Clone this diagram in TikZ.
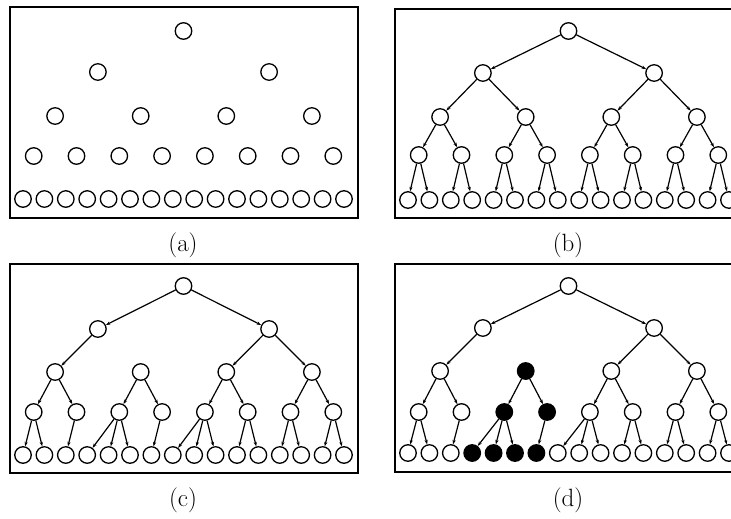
\documentclass[tikz,border=0pt]{standalone}
\usetikzlibrary{arrows.meta}
\tikzset{
  nd/.style={circle,draw=black,line width=1.3pt,minimum size=16.5pt,inner sep=0pt,fill=white},
  ed/.style={line width=1.2pt,-{Stealth[length=4.5pt,width=3.2pt]},shorten >=0pt},
  frame/.style={line width=1.5pt},
  lbl/.style={font=\fontsize{25}{30}\selectfont,inner sep=0pt},
  d-2-1/.style={fill=black},
  d-3-2/.style={fill=black},
  d-3-3/.style={fill=black},
  d-4-3/.style={fill=black},
  d-4-4/.style={fill=black},
  d-4-5/.style={fill=black},
  d-4-6/.style={fill=black}
}
\newcommand{\treelevels}[7]{%
  \foreach \i in {0,...,15} \node[nd,#1-4-\i/.try] (#1-4-\i) at ({#2+23+21.4*\i},#7) {};
  \foreach \i in {0,...,7} \node[nd,#1-3-\i/.try] (#1-3-\i) at ({#2+23+21.4*(2*\i+0.5)},#6) {};
  \foreach \i in {0,...,3} \node[nd,#1-2-\i/.try] (#1-2-\i) at ({#2+23+21.4*(4*\i+1.5)},#5) {};
  \foreach \i in {0,1} \node[nd,#1-1-\i/.try] (#1-1-\i) at ({#2+23+21.4*(8*\i+3.5)},#4) {};
  \node[nd,#1-0-0/.try] (#1-0-0) at ({#2+23+21.4*7.5},#3) {};
}
\newcommand{\partialedges}[1]{%
  \foreach \p/\c in {0-0/1-0,0-0/1-1,1-0/2-0,1-1/2-2,1-1/2-3,
    2-0/3-0,2-0/3-1,2-1/3-2,2-1/3-3,2-2/3-4,2-2/3-5,2-3/3-6,2-3/3-7,
    3-0/4-0,3-0/4-1,3-1/4-2,3-2/4-3,3-2/4-4,3-2/4-5,3-3/4-6,
    3-4/4-7,3-4/4-8,3-4/4-9,3-5/4-10,3-5/4-11,3-6/4-12,3-6/4-13,
    3-7/4-14,3-7/4-15}
    \draw[ed] (#1-\p) -- (#1-\c);
}
\begin{document}
\begin{tikzpicture}[x=1pt,y=-1pt]
\useasboundingbox (0,0) rectangle (731,519);
\clip (0,0) rectangle (731,519);
% frames
\draw[frame] (10,7) rectangle (358,218);
\draw[frame] (395,9) rectangle (743,218);
\draw[frame] (10,264) rectangle (358,473);
\draw[frame] (395,264) rectangle (743,472);
% (a)
\treelevels{a}{0}{31}{72}{116}{156}{199}
% (b)
\treelevels{b}{385}{31}{73}{117}{155}{200}
\foreach \lvl/\cnt in {0/0,1/1,2/3,3/7}
  \foreach \i in {0,...,\cnt} {
    \pgfmathtruncatemacro\nl{\lvl+1}
    \pgfmathtruncatemacro\ca{2*\i}
    \pgfmathtruncatemacro\cb{2*\i+1}
    \draw[ed] (b-\lvl-\i) -- (b-\nl-\ca);
    \draw[ed] (b-\lvl-\i) -- (b-\nl-\cb);
  }
% (c)
\treelevels{c}{0}{286}{329}{372}{412}{455}
\partialedges{c}
% (d)
\treelevels{d}{385}{286}{328}{371}{412}{453}
\partialedges{d}
% labels
\node[lbl] (la) at (183,245) {(a)};
\node[lbl] (lb) at (568,245) {(b)};
\node[lbl] (lc) at (183,500) {(c)};
\node[lbl] (ld) at (568,500) {(d)};
\end{tikzpicture}
\end{document}
